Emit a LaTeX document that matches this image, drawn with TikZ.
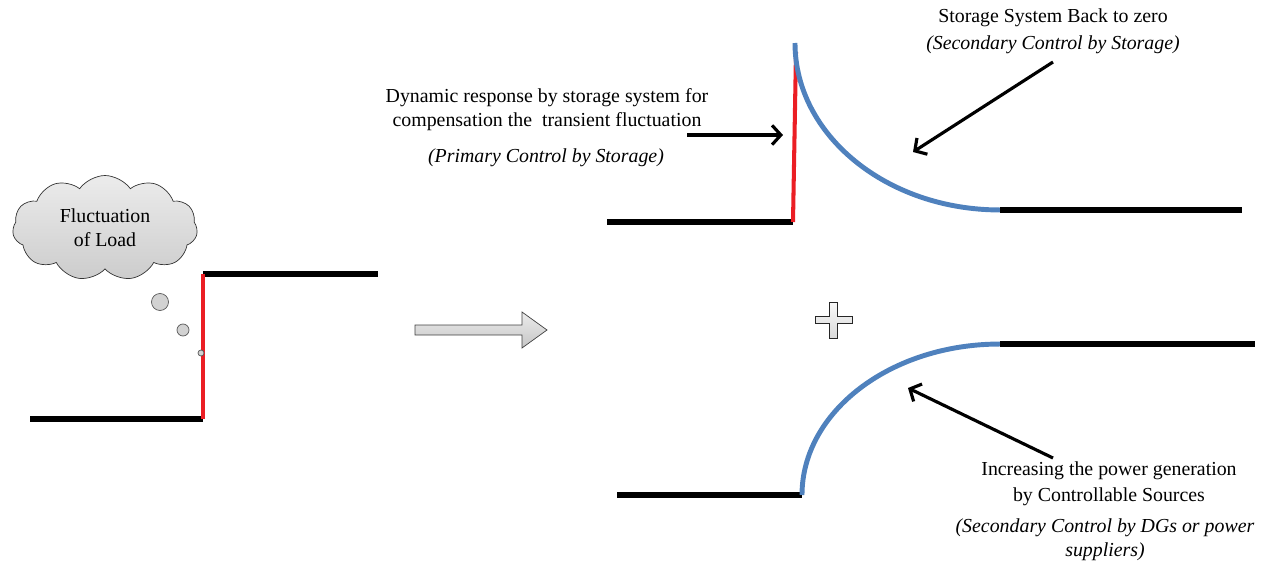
\documentclass[tikz,border=0pt]{standalone}
\usepackage{fontspec}
\setmainfont{Liberation Serif}
\usetikzlibrary{shapes,arrows.meta,positioning,calc}
\definecolor{respblue}{RGB}{79,129,189}
\definecolor{stepred}{RGB}{235,30,36}

\begin{document}
\begin{tikzpicture}[x=0.02cm,y=-0.02cm,
    level/.style={line width=3.4pt},
    jump/.style={line width=2.3pt, stepred},
    resp/.style={line width=2.8pt, respblue},
    pointer/.style={line width=1.8pt, -{Straight Barb[length=5pt,width=11pt]}},
    txt/.style={font=\fontsize{11.3}{13.6}\selectfont, align=center, inner sep=0pt},
    bubble/.style={circle, draw=gray!70!black, fill=gray!35, inner sep=0pt}]
    \useasboundingbox (0,0) rectangle (1265,571);

    % load step
    \coordinate (l0) at (30,419);
    \coordinate (l1) at (203,419);
    \coordinate (l2) at (203,274);
    \coordinate (l3) at (378,274);
    \draw[level] (l0) -- (l1);
    \draw[level] (l2) -- (l3);
    \draw[jump] (l1) -- (l2);

    % thought cloud
    \node[cloud, cloud puffs=11, cloud puff arc=110, aspect=1.7, draw=black!80,
          top color=gray!15, bottom color=gray!40, minimum width=3.7cm,
          minimum height=2.1cm, txt] (cloud) at (105,228) {Fluctuation\\of Load};
    \node[bubble, minimum size=0.34cm] (b1) at (160,302) {};
    \node[bubble, minimum size=0.24cm] (b2) at (183,330) {};
    \node[bubble, minimum size=0.12cm] (b3) at (201,353) {};

    % big arrow and plus
    \shadedraw[draw=gray!50!black, top color=gray!15, bottom color=gray!45]
        (415,325) -- (522,325) -- (522,312) -- (547,330) -- (522,348)
        -- (522,335) -- (415,335) -- cycle;
    \shadedraw[draw=gray!30!black, top color=gray!5, bottom color=gray!30]
        (829,302) -- (837,302) -- (837,316) -- (852,316) -- (852,323)
        -- (837,323) -- (837,338) -- (829,338) -- (829,323) -- (815,323)
        -- (815,316) -- (829,316) -- cycle;

    % storage response
    \coordinate (s0) at (607,222);
    \coordinate (s1) at (793,222);
    \coordinate (s2) at (796,52);
    \coordinate (peak) at (795,43);
    \coordinate (s3) at (1000,210);
    \coordinate (s4) at (1242,210);
    \draw[level] (s0) -- (s1);
    \draw[level] (s3) -- (s4);
    \draw[jump] (s1) -- (s2);
    \draw[resp] (peak) arc[start angle=180, end angle=270, x radius=4.1cm, y radius=3.34cm];

    % generation response
    \coordinate (g0) at (617,495);
    \coordinate (g1) at (802,495);
    \coordinate (g2) at (1000,344);
    \coordinate (g3) at (1255,344);
    \draw[level] (g0) -- (g1);
    \draw[level] (g2) -- (g3);
    \draw[resp] (g1) arc[start angle=180, end angle=90, x radius=3.96cm, y radius=3.02cm];

    % texts
    \node[txt] (back) at (1053,31) {Storage System Back to zero\\[2pt]\textit{(Secondary Control by Storage)}};
    \node[txt] (dyn) at (547,110) {Dynamic response by storage system for\\compensation the~ transient fluctuation};
    \node[txt] (prim) at (546,158) {\textit{(Primary Control by Storage)}};
    \node[txt] (incr) at (1109,484) {Increasing the power generation\\[1pt]by Controllable Sources};
    \node[txt] (dgs) at (1105,540) {\textit{(Secondary Control by DGs or power}\\\textit{suppliers)}};

    % pointers
    \coordinate (backtail) at (1053,62);
    \coordinate (backtip) at (913,152);
    \coordinate (dyntail) at (687,135);
    \coordinate (dyntip) at (783,135);
    \coordinate (incrtail) at (1053,458);
    \coordinate (incrtip) at (908,388);
    \draw[pointer] (backtail) -- (backtip);
    \draw[pointer] (dyntail) -- (dyntip);
    \draw[pointer] (incrtail) -- (incrtip);
\end{tikzpicture}
\end{document}
